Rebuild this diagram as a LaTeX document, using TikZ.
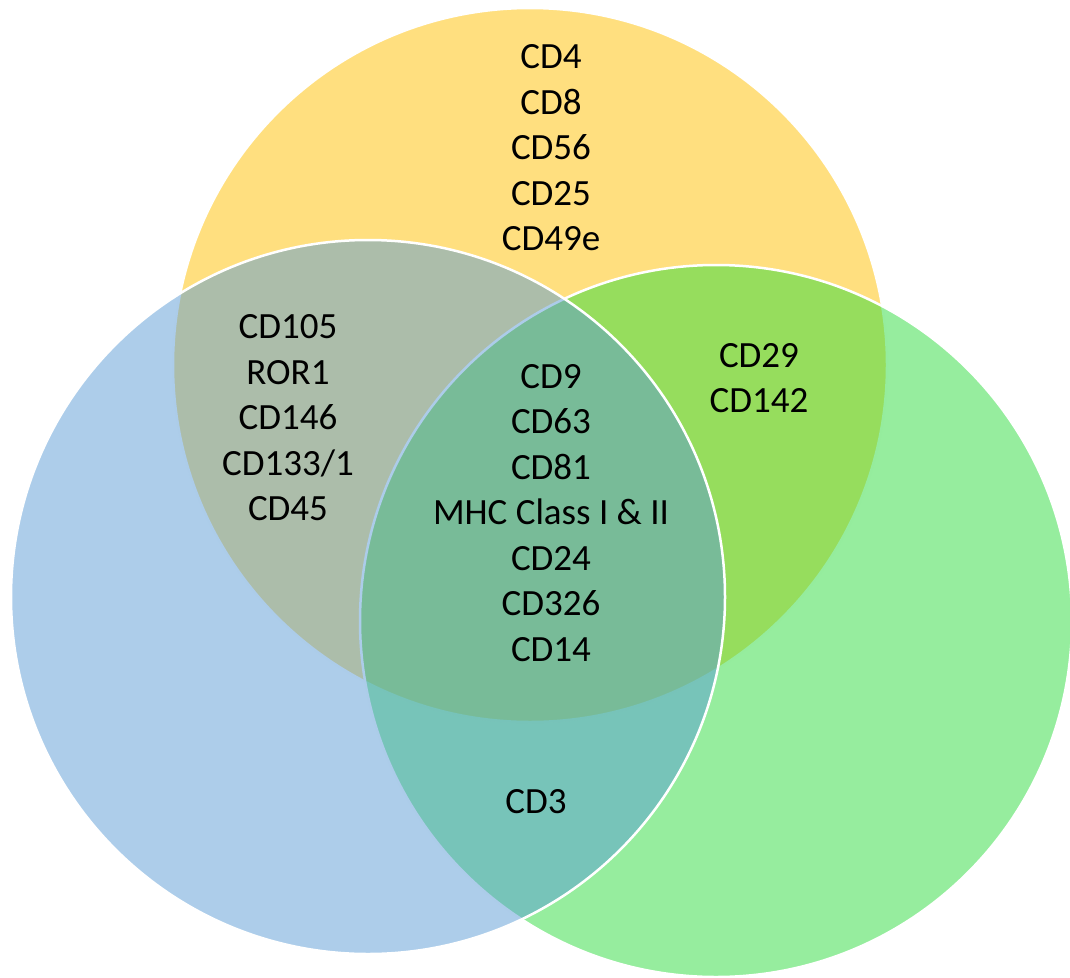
\documentclass[tikz,border=0pt]{standalone}
\usepackage{fontspec}
\setmainfont{Carlito}
\definecolor{setyellow}{RGB}{255,192,0}
\definecolor{setgreen}{RGB}{45,219,61}
\definecolor{setblue}{RGB}{91,155,213}
\begin{document}
\begin{tikzpicture}[x=1pt,y=-1pt,
  setcircle/.style={draw=white,line width=2.5pt,fill opacity=0.5},
  lbl/.style={align=center,inner sep=0pt,text=black,
    font=\fontsize{37}{45.5}\selectfont}]
\useasboundingbox (0,0) rectangle (1070,977);
% three overlapping sets, blue on top
\path[setcircle,fill=setyellow] (530,365) circle[radius=357];
\path[setcircle,fill=setgreen] (716,621) circle[radius=356];
\path[setcircle,fill=setblue] (368,597) circle[radius=357];
% labels
\node[lbl] (top) at (551,148) {CD4\\CD8\\CD56\\CD25\\CD49e};
\node[lbl] (left) at (288,418) {CD105\\ROR1\\CD146\\CD133/1\\CD45};
\node[lbl] (mid) at (551,513) {CD9\\CD63\\CD81\\MHC Class I \& II\\CD24\\CD326\\CD14};
\node[lbl] (right) at (759,378) {CD29\\CD142};
\node[lbl] (low) at (536,802) {CD3};
\end{tikzpicture}
\end{document}
